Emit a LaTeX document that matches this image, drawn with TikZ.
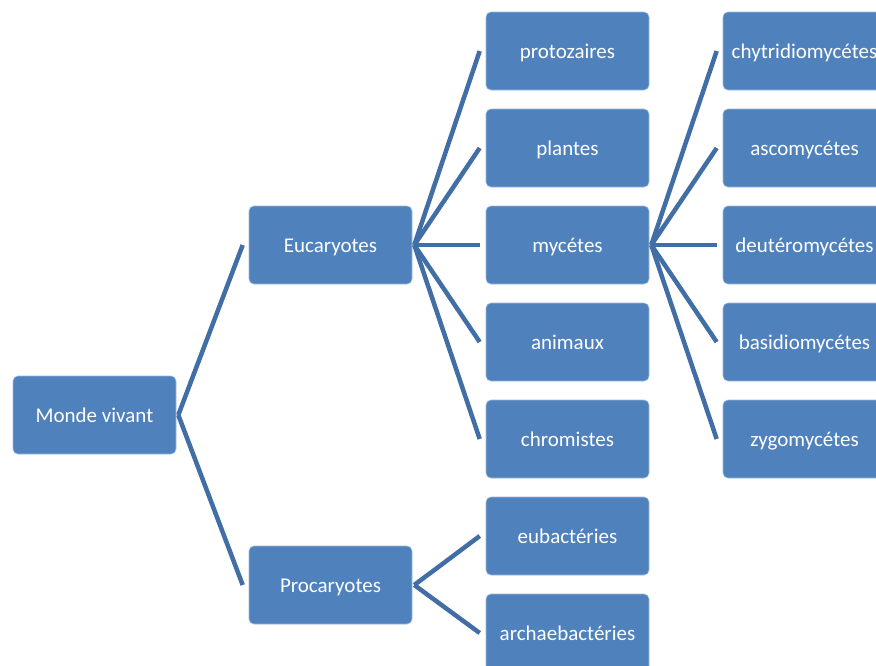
\documentclass[tikz,border=0pt]{standalone}
\usepackage{fontspec}
\setmainfont{Carlito}
\definecolor{boxblue}{RGB}{79,129,189}
\definecolor{linkblue}{RGB}{65,110,165}
\begin{document}
\begin{tikzpicture}[x=1pt,y=-1pt,line join=round,
  bloc/.style={rectangle,rounded corners=5pt,fill=boxblue,draw=boxblue!55!white,line width=0.6pt,
    minimum width=163pt,minimum height=78pt,inner sep=0pt,text height=16pt,text depth=0.6pt,
    text=white,font=\fontsize{21}{25}\selectfont},
  link/.style={draw=linkblue,line width=4.5pt}]
\def \W{876};
\def \H{665};
\clip (0,0) rectangle (\W,\H);
\fill[white] (0,0) rectangle (\W,\H);
% tree
\node[bloc] (mv) at (94.5,415) {Monde vivant};
\node[bloc] (euc) at (330.5,245) {Eucaryotes};
\node[bloc] (pro) at (330.5,585) {Procaryotes};
\foreach \n/\y/\t in {protoz/51/protozaires,plantes/148/plantes,myc/245/mycétes,anim/342/animaux,chrom/439/chromistes,eubac/536/eubactéries,archae/633/archaebactéries}{\node[bloc] (\n) at (567.5,\y) {\t};}
\foreach \n/\y/\t in {chytr/51/chytridiomycétes,asco/148/ascomycétes,deut/245/deutéromycétes,basid/342/basidiomycétes,zygo/439/zygomycétes}{\node[bloc] (\n) at (804.5,\y) {\t};}
% connectors
\foreach \c in {euc,pro}{\draw[link] ([xshift=2pt]mv.east) -- ([xshift=-6pt]\c.west);}
\foreach \c in {protoz,plantes,myc,anim,chrom}{\draw[link] ([xshift=2pt]euc.east) -- ([xshift=-6pt]\c.west);}
\foreach \c in {eubac,archae}{\draw[link] ([xshift=2pt]pro.east) -- ([xshift=-6pt]\c.west);}
\foreach \c in {chytr,asco,deut,basid,zygo}{\draw[link] ([xshift=2pt]myc.east) -- ([xshift=-6pt]\c.west);}
\end{tikzpicture}
\end{document}
